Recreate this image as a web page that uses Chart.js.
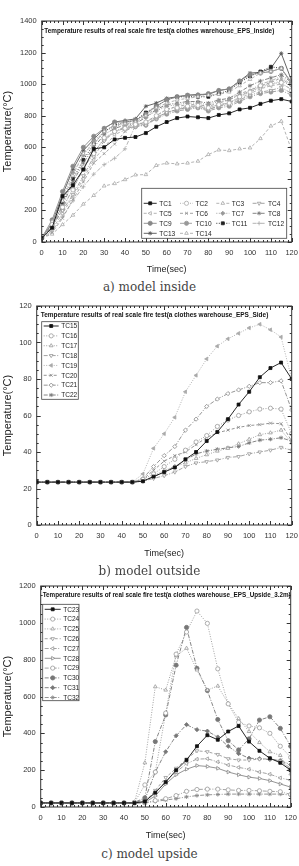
<!DOCTYPE html>
<html>
<head>
<meta charset="utf-8">
<title>Temperature results of real scale fire test</title>
<script src="https://cdn.jsdelivr.net/npm/chart.js@4.4.1/dist/chart.umd.min.js"></script>
<style>
    body { margin: 0; background: #fff; }
    .wrap { position: absolute; left: 0; width: 299px; }
    .cap { position: absolute; left: 0; width: 299px; text-align: center; z-index: 2;
           font-family: "DejaVu Serif", serif; font-size: 12px; line-height: 14px; color: #444; }
</style>
</head>
<body>
<div class="wrap" style="top:0;height:279px"><canvas id="chartA"></canvas></div>
<div class="cap" style="top:280px">a) model inside</div>
<div class="wrap" style="top:295px;height:268px"><canvas id="chartB"></canvas></div>
<div class="cap" style="top:564px">b) model outside</div>
<div class="wrap" style="top:565px;height:280px"><canvas id="chartC"></canvas></div>
<div class="cap" style="top:847px">c) model upside</div>

<script>
// thoi gian do (giay)
var times = [0, 5, 10, 15, 20, 25, 30, 35, 40, 45, 50, 55, 60, 65, 70, 75, 80, 85, 90, 95, 100, 105, 110, 115, 120];

// a) model inside
var tc1  = [25, 90, 290, 360, 460, 590, 600, 650, 660, 665, 690, 730, 760, 785, 795, 790, 785, 805, 815, 840, 850, 875, 895, 905, 890];
var tc2  = [25, 110, 220, 330, 470, 560, 660, 700, 720, 745, 760, 800, 840, 850, 860, 865, 850, 870, 880, 920, 950, 990, 1000, 1010, 960];
var tc3  = [25, 130, 260, 420, 560, 620, 700, 740, 750, 760, 800, 850, 880, 900, 910, 920, 930, 935, 950, 990, 1030, 1070, 1080, 1100, 1000];
var tc4  = [25, 100, 200, 300, 420, 540, 640, 700, 730, 740, 740, 790, 820, 840, 850, 850, 840, 860, 870, 900, 930, 950, 960, 980, 940];
var tc5  = [25, 80, 180, 290, 400, 520, 600, 680, 710, 730, 750, 780, 820, 840, 850, 860, 840, 860, 880, 910, 940, 970, 990, 1000, 970];
var tc6  = [25, 60, 150, 270, 380, 500, 560, 620, 700, 740, 760, 800, 840, 860, 870, 870, 860, 880, 900, 940, 960, 990, 1010, 1040, 980];
var tc7  = [25, 120, 280, 440, 550, 640, 700, 730, 750, 750, 790, 830, 860, 870, 880, 880, 870, 890, 900, 930, 950, 980, 1000, 1020, 990];
var tc8  = [25, 100, 230, 380, 500, 600, 680, 720, 740, 750, 790, 840, 870, 880, 890, 890, 880, 900, 910, 950, 990, 1020, 1040, 1060, 1010];
var tc9  = [25, 140, 320, 480, 600, 670, 720, 760, 760, 770, 810, 860, 900, 920, 930, 930, 940, 960, 970, 1020, 1060, 1070, 1080, 1100, 1010];
var tc10 = [25, 90, 210, 340, 460, 570, 650, 700, 720, 730, 740, 780, 810, 830, 840, 850, 830, 850, 860, 890, 920, 940, 950, 960, 930];
var tc11 = [25, 110, 250, 400, 520, 620, 700, 740, 760, 770, 820, 860, 900, 920, 920, 920, 920, 940, 960, 1010, 1050, 1080, 1110, 1100, 1000];
var tc12 = [25, 70, 160, 260, 350, 430, 490, 530, 590, 740, 760, 790, 820, 840, 860, 860, 850, 870, 880, 920, 960, 1000, 1020, 1050, 990];
var tc13 = [25, 120, 300, 460, 580, 650, 720, 760, 770, 780, 860, 880, 910, 920, 930, 935, 935, 960, 970, 1020, 1070, 1075, 1100, 1195, 1020];
var tc14 = [25, 50, 110, 170, 240, 295, 355, 370, 395, 425, 427, 485, 500, 495, 500, 512, 554, 583, 579, 590, 596, 655, 735, 765, 580];

// b) model outside
var tc15 = [23.5, 23.5, 23.5, 23.5, 23.5, 23.5, 23.5, 23.5, 23.5, 23.5, 24, 26.5, 29, 31.5, 36, 40, 46, 51, 58, 66, 73, 81, 86, 89, 80];
var tc16 = [23.5, 23.5, 23.5, 23.5, 23.5, 23.5, 23.5, 23.5, 23.5, 23.5, 25, 28, 32, 36, 41, 45.5, 49, 54, 57.5, 60, 62, 63.5, 64, 63.5, 50];
var tc17 = [23.5, 23.5, 23.5, 23.5, 23.5, 23.5, 23.5, 23.5, 23.5, 23.5, 24, 27, 30, 32, 34, 36.5, 38.5, 40.5, 42, 44.5, 47, 49.5, 50.5, 52, 45];
var tc18 = [23.5, 23.5, 23.5, 23.5, 23.5, 23.5, 23.5, 23.5, 23.5, 23.5, 24, 25.5, 27, 29, 32, 34, 34.7, 35.6, 37, 37.5, 39, 40, 41, 42.5, 41];
var tc19 = [23.5, 23.5, 23.5, 23.5, 23.5, 23.5, 23.5, 23.5, 23.5, 23.5, 28, 42, 50, 59, 73, 82, 91, 98, 102, 105, 108, 110, 107, 103, 80];
var tc20 = [23.5, 23.5, 23.5, 23.5, 23.5, 23.5, 23.5, 23.5, 23.5, 23.5, 25, 30, 35, 38, 40, 44, 48, 50.5, 52, 53.5, 54.5, 55, 55.8, 55.5, 46];
var tc21 = [23.5, 23.5, 23.5, 23.5, 23.5, 23.5, 23.5, 23.5, 23.5, 23.5, 25.5, 32, 38, 43, 52, 58, 65, 69, 72, 74, 76, 78, 78, 79, 63];
var tc22 = [23.5, 23.5, 23.5, 23.5, 23.5, 23.5, 23.5, 23.5, 23.5, 23.5, 24, 26.5, 29, 32, 35.5, 39, 40.5, 41.5, 42.3, 43, 45, 46.5, 47, 47.8, 46];

// c) model upside
var tc23 = [22, 22, 22, 22, 22, 22, 22, 22, 22, 22, 30, 78, 135, 200, 255, 330, 390, 365, 410, 440, 355, 305, 265, 240, 200];
var tc24 = [22, 22, 22, 22, 22, 22, 22, 22, 22, 25, 120, 190, 510, 830, 950, 1064, 997, 750, 560, 460, 440, 430, 400, 330, 270];
var tc25 = [22, 22, 22, 22, 22, 22, 22, 22, 22, 25, 240, 653, 635, 820, 862, 744, 635, 657, 563, 480, 410, 350, 300, 280, 180];
var tc26 = [22, 22, 22, 22, 22, 22, 22, 22, 22, 22, 28, 90, 160, 210, 260, 305, 300, 285, 262, 255, 255, 260, 262, 250, 210];
var tc27 = [22, 22, 22, 22, 22, 22, 22, 22, 22, 22, 26, 80, 140, 190, 235, 260, 262, 245, 228, 215, 205, 190, 178, 158, 145];
var tc28 = [22, 22, 22, 22, 22, 22, 22, 22, 22, 22, 25, 60, 125, 175, 205, 225, 220, 210, 190, 175, 162, 155, 143, 125, 108];
var tc29 = [22, 22, 22, 22, 22, 22, 22, 22, 22, 22, 23, 35, 45, 62, 85, 95, 97, 97, 93, 90, 90, 88, 85, 83, 68];
var tc30 = [22, 22, 22, 22, 22, 22, 22, 22, 22, 25, 50, 355, 500, 770, 975, 753, 632, 475, 360, 310, 370, 472, 490, 427, 330];
var tc31 = [22, 22, 22, 22, 22, 22, 22, 22, 22, 24, 40, 190, 300, 387, 447, 420, 412, 380, 330, 290, 265, 262, 258, 252, 230];
var tc32 = [22, 22, 22, 22, 22, 22, 22, 22, 22, 22, 23, 30, 38, 45, 55, 62, 66, 68, 70, 70, 70, 70, 70, 70, 65];

var yTicksA = [0, 1400, 200];
var yTicksB = [0, 120, 20];
var yTicksC = [0, 1200, 200];

var SOLID = [], DOT = [1, 1.5], DASH = [3, 2], DASHDOT = [4, 1.5, 1, 1.5];

function ds(label, vals, color, dash, shape, fill, rot) {
    return {
        label: label,
        data: times.map(function (t, i) { return { x: t, y: vals[i] }; }),
        borderColor: color,
        borderWidth: 0.9,
        borderDash: dash,
        pointStyle: shape,
        pointRadius: 2.1,
        pointRotation: rot || 0,
        pointBackgroundColor: fill,
        pointBorderColor: color,
        pointBorderWidth: 0.8,
        tension: 0,
        fill: false
    };
}

// chu hep (anh goc bi nen ngang)
function narrowText(ctx, text, x, y, sx) {
    ctx.save();
    ctx.translate(x, y);
    ctx.scale(sx, 1);
    ctx.fillText(text, 0, 0);
    ctx.restore();
}

var framePlugin = {
    id: 'frame',
    afterDatasetsDraw: function (chart, args, opts) {
        var ctx = chart.ctx, a = chart.chartArea;
        var xs = chart.scales.x, ys = chart.scales.y;
        ctx.save();
        ctx.setLineDash([]);
        ctx.strokeStyle = '#333';
        ctx.lineWidth = 1;
        // khung
        ctx.strokeRect(a.left, a.top, a.right - a.left, a.bottom - a.top);
        // vach chia huong vao trong
        ctx.beginPath();
        for (var v = xs.min; v <= xs.max + 0.001; v += opts.minorX) {
            var px = Math.round(xs.getPixelForValue(v)) + 0.5;
            var len = (Math.abs(v % opts.majorX) < 0.001) ? 4 : 2;
            ctx.moveTo(px, a.bottom); ctx.lineTo(px, a.bottom - len);
            ctx.moveTo(px, a.top); ctx.lineTo(px, a.top + len);
        }
        for (var w = ys.min; w <= ys.max + 0.001; w += opts.minorY) {
            var py = Math.round(ys.getPixelForValue(w)) + 0.5;
            var len2 = (Math.abs(w % opts.majorY) < 0.001) ? 4 : 2;
            ctx.moveTo(a.left, py); ctx.lineTo(a.left + len2, py);
            ctx.moveTo(a.right, py); ctx.lineTo(a.right - len2, py);
        }
        ctx.stroke();

        // tieu de ben trong
        ctx.fillStyle = '#111';
        ctx.font = 'bold 8px Arial';
        ctx.textBaseline = 'middle';
        ctx.textAlign = 'left';
        var tw = ctx.measureText(opts.title).width;
        narrowText(ctx, opts.title, opts.titleX, opts.titleY, opts.titleW / tw);

        // chu thich
        var lg = opts.legend;
        ctx.fillStyle = '#fff';
        ctx.fillRect(lg.x, lg.y, lg.w, lg.h);
        ctx.strokeStyle = '#444';
        ctx.lineWidth = 0.8;
        ctx.strokeRect(lg.x, lg.y, lg.w, lg.h);
        chart.data.datasets.forEach(function (d, i) {
            var col = i % lg.cols, row = Math.floor(i / lg.cols);
            var sx = lg.x + 2 + col * lg.colW;
            var sy = lg.y + lg.rowY0 + row * lg.rowH;
            ctx.strokeStyle = d.borderColor;
            ctx.lineWidth = 0.9;
            ctx.setLineDash(d.borderDash);
            ctx.beginPath();
            ctx.moveTo(sx, sy); ctx.lineTo(sx + lg.sampleW, sy);
            ctx.stroke();
            ctx.setLineDash([]);
            ctx.fillStyle = d.pointBackgroundColor;
            ctx.strokeStyle = d.pointBorderColor;
            ctx.lineWidth = 0.8;
            Chart.helpers.drawPoint(ctx, { pointStyle: d.pointStyle, rotation: d.pointRotation, radius: 2.1, borderWidth: 0.8 }, sx + lg.sampleW / 2, sy);
            ctx.fillStyle = '#222';
            ctx.font = '8px Arial';
            narrowText(ctx, d.label, sx + lg.sampleW + 2.5, sy, 0.82);
        });
        ctx.restore();
    }
};

function makeChart(id, sets, yt, frame) {
    var ctx = document.getElementById(id).getContext('2d');
    return new Chart(ctx, {
        type: 'line',
        data: { datasets: sets },
        options: {
            responsive: true,
            maintainAspectRatio: false,
            animation: false,
            layout: { padding: { top: frame.padTop, right: frame.padRight, left: 0, bottom: 0 } },
            plugins: { legend: { display: false }, tooltip: { enabled: false }, frame: frame },
            scales: {
                x: {
                    type: 'linear', min: 0, max: 120,
                    grid: { display: false, drawTicks: false },
                    border: { display: false },
                    ticks: { stepSize: 10, autoSkip: false, maxRotation: 0, padding: 6, color: '#333',
                             font: { family: 'Arial', size: 7.5 } },
                    title: { display: true, text: 'Time(sec)', color: '#222',
                             font: { family: 'Arial', size: 9 }, padding: { top: 0, bottom: 4 } },
                    afterFit: function (s) { s.height = frame.xH; s.paddingLeft = 0; s.paddingRight = 0; }
                },
                y: {
                    min: yt[0], max: yt[1],
                    grid: { display: false, drawTicks: false },
                    border: { display: false },
                    ticks: { stepSize: yt[2], padding: 5, color: '#333', font: { family: 'Arial', size: 7.5 },
                             callback: function (v) { return String(v); } },
                    title: { display: true, text: 'Temperature(°C)', color: '#222',
                             font: { family: 'Arial', size: 11 }, padding: { top: 1, bottom: 0 } },
                    afterFit: function (s) { s.width = frame.yW; s.paddingTop = 0; s.paddingBottom = 0; }
                }
            }
        },
        plugins: [framePlugin]
    });
}

makeChart('chartA', [
    ds('TC1', tc1, '#111', SOLID, 'rect', '#111'),
    ds('TC2', tc2, '#aaa', DOT, 'circle', '#fff'),
    ds('TC3', tc3, '#aaa', DASH, 'triangle', '#fff'),
    ds('TC4', tc4, '#999', DASHDOT, 'triangle', '#fff', 180),
    ds('TC5', tc5, '#aaa', DASH, 'triangle', '#fff', -90),
    ds('TC6', tc6, '#999', DASH, 'crossRot', '#999'),
    ds('TC7', tc7, '#999', DOT, 'rectRot', '#999'),
    ds('TC8', tc8, '#777', DASHDOT, 'star', '#777'),
    ds('TC9', tc9, '#888', SOLID, 'circle', '#888'),
    ds('TC10', tc10, '#999', DASHDOT, 'circle', '#999'),
    ds('TC11', tc11, '#222', DOT, 'rect', '#222'),
    ds('TC12', tc12, '#aaa', DASHDOT, 'cross', '#aaa'),
    ds('TC13', tc13, '#555', SOLID, 'star', '#555'),
    ds('TC14', tc14, '#aaa', DASH, 'triangle', '#fff')
], yTicksA, {
    padTop: 21, padRight: 7.3, xH: 37, yW: 41.7,
    majorX: 10, minorX: 2, majorY: 200, minorY: 50,
    title: 'Temperature results of real scale fire test(a clothes warehouse_EPS_Inside)',
    titleX: 44.3, titleY: 31, titleW: 230,
    legend: { x: 141.7, y: 188.3, w: 145, h: 50, cols: 4, colW: 36.3, rowY0: 15, rowH: 10, sampleW: 13 }
});

makeChart('chartB', [
    ds('TC15', tc15, '#111', SOLID, 'rect', '#111'),
    ds('TC16', tc16, '#999', DOT, 'circle', '#fff'),
    ds('TC17', tc17, '#999', DOT, 'triangle', '#fff'),
    ds('TC18', tc18, '#999', DASHDOT, 'triangle', '#fff', 180),
    ds('TC19', tc19, '#aaa', DOT, 'triangle', '#aaa', -90),
    ds('TC20', tc20, '#888', DASH, 'crossRot', '#888'),
    ds('TC21', tc21, '#888', DASHDOT, 'rectRot', '#fff'),
    ds('TC22', tc22, '#777', DASHDOT, 'star', '#777')
], yTicksB, {
    padTop: 11, padRight: 7.3, xH: 38, yW: 36.7,
    majorX: 10, minorX: 2, majorY: 20, minorY: 5,
    title: 'Temperature results of real scale fire test(a clothes warehouse_EPS_Side)',
    titleX: 40.7, titleY: 19.3, titleW: 227.6,
    legend: { x: 41.7, y: 26.7, w: 36.6, h: 77.6, cols: 1, colW: 0, rowY0: 4.3, rowH: 9.86, sampleW: 15 }
});

makeChart('chartC', [
    ds('TC23', tc23, '#111', SOLID, 'rect', '#111'),
    ds('TC24', tc24, '#999', DOT, 'circle', '#fff'),
    ds('TC25', tc25, '#999', DOT, 'triangle', '#fff'),
    ds('TC26', tc26, '#999', DASH, 'triangle', '#fff', 180),
    ds('TC27', tc27, '#999', DASHDOT, 'triangle', '#fff', -90),
    ds('TC28', tc28, '#888', SOLID, 'triangle', '#fff', 90),
    ds('TC29', tc29, '#999', DASHDOT, 'circle', '#fff'),
    ds('TC30', tc30, '#777', DASHDOT, 'circle', '#777'),
    ds('TC31', tc31, '#777', DASHDOT, 'rectRot', '#777'),
    ds('TC32', tc32, '#888', DASHDOT, 'star', '#888')
], yTicksC, {
    padTop: 21, padRight: 8.3, xH: 38, yW: 40.7,
    majorX: 10, minorX: 2, majorY: 200, minorY: 50,
    title: 'Temperature results of real scale fire test(a clothes warehouse_EPS_Upside_3.2m)',
    titleX: 42.7, titleY: 29.3, titleW: 248,
    legend: { x: 42.7, y: 39.3, w: 36.3, h: 96.4, cols: 1, colW: 0, rowY0: 5, rowH: 9.8, sampleW: 16 }
});
</script>
</body>
</html>
